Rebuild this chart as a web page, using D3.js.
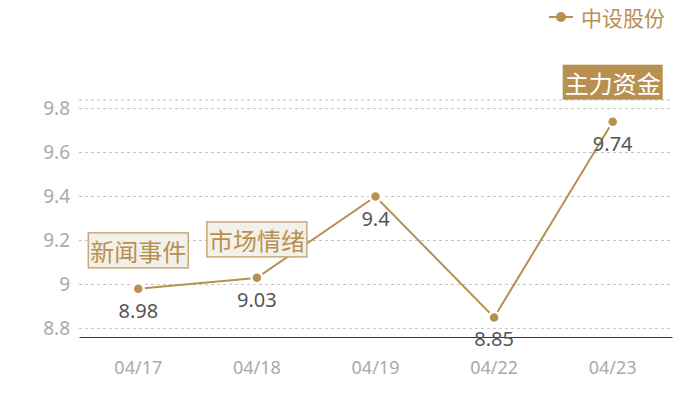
<!DOCTYPE html>
<html>
<head>
<meta charset="utf-8">
<script src="https://cdn.jsdelivr.net/npm/d3@7"></script>
<style>
  body { margin: 0; background: #fff; }
  svg { display: block; font-family: "Noto Sans CJK SC", "Noto Sans", sans-serif; }
</style>
</head>
<body>
<svg id="chart" width="700" height="400"></svg>
<script>
'use strict';

const dates = ['04/17', '04/18', '04/19', '04/22', '04/23'];
const prices = [8.98, 9.03, 9.4, 8.85, 9.74];
const yTicks = [8.8, 9, 9.2, 9.4, 9.6, 9.8];
const seriesName = '中设股份';
// annotations: label, index of date it sits near, value it is centred on
const noteLabels = ['新闻事件', '市场情绪', '主力资金'];
const noteIndex = [0, 1, 4];
const noteValue = [9.155, 9.205, 9.92];
const noteFilled = [false, false, true];

const gold = '#b8904f';

const svg = d3.select('#chart');
const width = 700;
const height = 400;
const marg = { left: 79, right: 28, top: 100, bottom: 63 };

// Setting scales
const xScale = d3.scaleBand()
  .domain(dates)
  .range([marg.left, width - marg.right]);
const yScale = d3.scaleLinear()
  .domain([8.761, 9.839])
  .range([height - marg.bottom, marg.top]);

const cx = (d, i) => xScale(dates[i]) + xScale.bandwidth() / 2;

// Grid lines
svg.append('g')
  .selectAll('line')
  .data(yTicks.concat([yScale.domain()[1]]))
  .join('line')
  .attr('x1', marg.left).attr('x2', width - marg.right)
  .attr('y1', d => yScale(d)).attr('y2', d => yScale(d))
  .attr('stroke', '#c4c4c4')
  .attr('stroke-dasharray', '3,3');

// Y axis
const yAxis = svg.append('g')
  .attr('transform', `translate(${marg.left},0)`)
  .call(d3.axisLeft(yScale).tickValues(yTicks).tickSize(0).tickPadding(9).tickFormat(d3.format('')));
yAxis.select('.domain').remove();
yAxis.selectAll('text')
  .attr('fill', '#aaa')
  .style('font-size', '19px')
  .style('font-family', '"Noto Sans", sans-serif');

// X axis
const xAxis = svg.append('g')
  .attr('transform', `translate(0,${height - marg.bottom})`)
  .call(d3.axisBottom(xScale).tickSize(0).tickPadding(24));
xAxis.select('.domain').attr('stroke', '#333');
xAxis.selectAll('text')
  .attr('fill', '#aaa')
  .style('font-size', '18px')
  .style('font-family', '"Noto Sans", sans-serif');

// Line
const line = d3.line()
  .x((d, i) => cx(d, i))
  .y(d => yScale(d));
svg.append('path')
  .datum(prices)
  .attr('d', line)
  .attr('fill', 'none')
  .attr('stroke', gold)
  .attr('stroke-width', 2);

// Markers, with a white ring that breaks the line at each point
svg.append('g')
  .selectAll('circle')
  .data(prices)
  .join('circle')
  .attr('cx', cx)
  .attr('cy', d => yScale(d))
  .attr('r', 5.5)
  .attr('fill', gold)
  .attr('stroke', '#fff')
  .attr('stroke-width', 2.5);

// Value labels
svg.append('g')
  .selectAll('text')
  .data(prices)
  .join('text')
  .attr('x', cx)
  .attr('y', d => yScale(d) + 22)
  .attr('dy', '0.35em')
  .attr('text-anchor', 'middle')
  .attr('fill', '#555')
  .style('font-size', '20px')
  .style('font-family', '"Noto Sans", sans-serif')
  .text(d => d);

// Annotation boxes
noteLabels.forEach((label, k) => {
  const x = cx(null, noteIndex[k]);
  const y = yScale(noteValue[k]);
  const g = svg.append('g');
  const t = g.append('text')
    .attr('x', x).attr('y', y)
    .attr('text-anchor', 'middle')
    .attr('dominant-baseline', 'central')
    .attr('fill', noteFilled[k] ? '#fff' : gold)
    .style('font-size', '24px')
    .text(label);
  const bb = t.node().getBBox();
  g.insert('rect', 'text')
    .attr('x', bb.x - 2).attr('y', y - 17.5)
    .attr('width', bb.width + 4).attr('height', 35)
    .attr('fill', noteFilled[k] ? gold : '#f3efe9')
    .attr('stroke', noteFilled[k] ? 'none' : '#c9a978')
    .attr('stroke-width', 1.5);
});

// Legend
const leg = svg.append('g').attr('transform', 'translate(549,17)');
leg.append('line').attr('x1', 0).attr('x2', 24).attr('stroke', gold).attr('stroke-width', 2);
leg.append('circle').attr('cx', 12).attr('r', 5).attr('fill', gold);
leg.append('text')
  .attr('x', 32).attr('y', 0)
  .attr('dominant-baseline', 'central')
  .attr('fill', gold)
  .style('font-size', '21px')
  .text(seriesName);
</script>
</body>
</html>
